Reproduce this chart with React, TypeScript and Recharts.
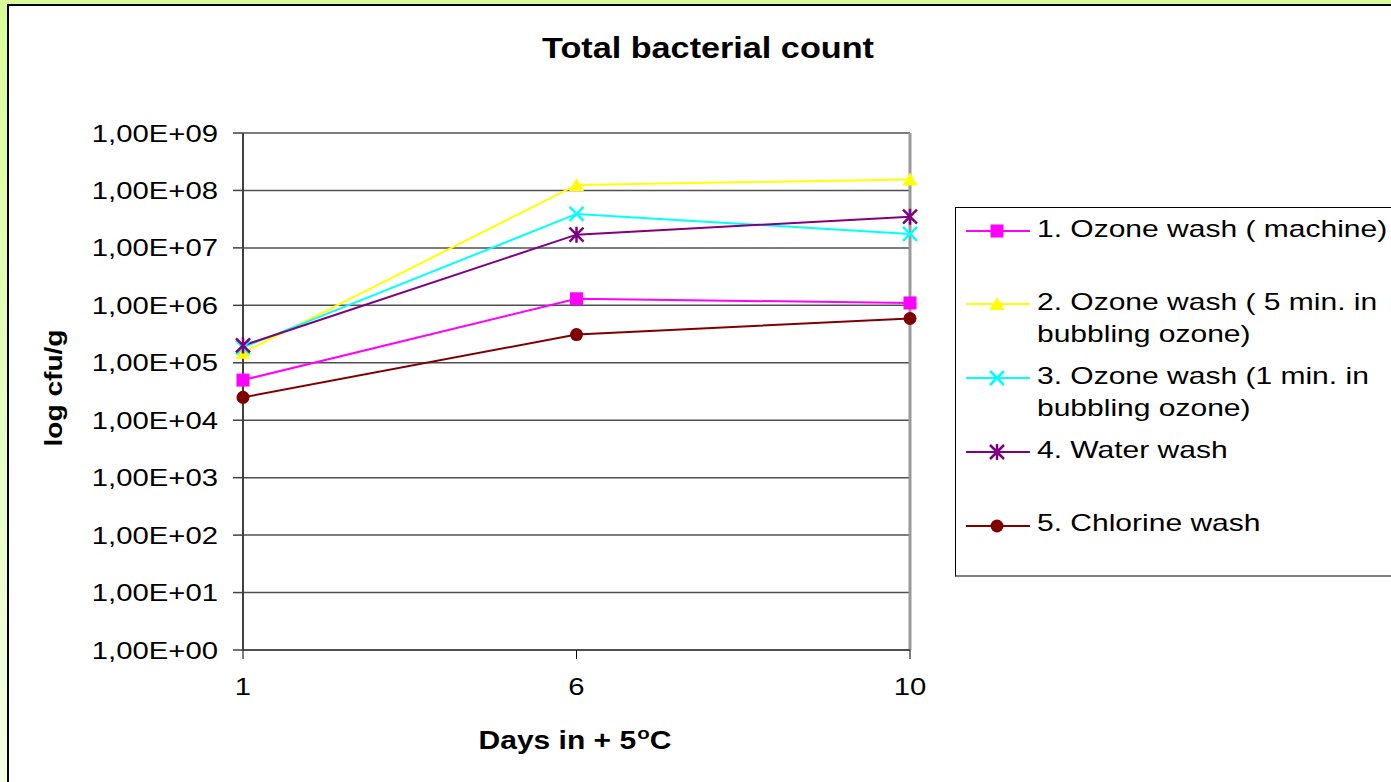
import { LineChart, Line, XAxis, YAxis, CartesianGrid, ReferenceLine } from 'recharts';

const FONT = '"Liberation Sans", Arial, sans-serif';
const STRETCH = 1.22;
const LEGEND_STRETCH = 1.25;

const days = ['1', '6', '10'];
const yTicks = [1, 10, 100, 1e3, 1e4, 1e5, 1e6, 1e7, 1e8, 1e9];

const ozoneMachine = [5.0e4, 1.3e6, 1.1e6];
const ozone5min = [1.5e5, 1.25e8, 1.55e8];
const ozone1min = [1.85e5, 3.9e7, 1.75e7];
const waterWash = [2.0e5, 1.7e7, 3.5e7];
const chlorineWash = [2.5e4, 3.1e5, 5.9e5];

const series = [
  { key: 's1', name: '1. Ozone wash ( machine)', color: '#ff00ff', marker: 'square', values: ozoneMachine },
  { key: 's2', name: '2. Ozone wash ( 5 min. in\nbubbling ozone)', color: '#ffff00', marker: 'triangle', values: ozone5min },
  { key: 's3', name: '3. Ozone wash (1 min. in\nbubbling ozone)', color: '#00ffff', marker: 'x', values: ozone1min },
  { key: 's4', name: '4. Water wash', color: '#800080', marker: 'star', values: waterWash },
  { key: 's5', name: '5. Chlorine wash', color: '#800000', marker: 'circle', values: chlorineWash },
];

const data = days.map((day, i) => {
  const row: any = { day };
  series.forEach((s) => { row[s.key] = s.values[i]; });
  return row;
});

// legend text baselines (page px)
const legendBaselines = [237, 310, 384, 458, 531.7];

const formatTick = (v: number) => {
  const e = Math.round(Math.log10(v));
  return '1,00E+' + (e < 10 ? '0' + e : '' + e);
};

function Marker({ cx, cy, type, color }: { cx: number; cy: number; type: string; color: string }) {
  if (cx == null || cy == null) return null;
  switch (type) {
    case 'square':
      return <rect x={cx - 6.5} y={cy - 6.5} width={13} height={13} fill={color} />;
    case 'triangle':
      return <polygon points={`${cx},${cy - 7} ${cx + 7.5},${cy + 6} ${cx - 7.5},${cy + 6}`} fill={color} />;
    case 'x':
      return (
        <path d={`M${cx - 7},${cy - 7}L${cx + 7},${cy + 7}M${cx - 7},${cy + 7}L${cx + 7},${cy - 7}`}
          stroke={color} strokeWidth={2.5} fill="none" />
      );
    case 'star':
      return (
        <path d={`M${cx - 7},${cy - 7}L${cx + 7},${cy + 7}M${cx - 7},${cy + 7}L${cx + 7},${cy - 7}M${cx},${cy - 8}L${cx},${cy + 8}`}
          stroke={color} strokeWidth={2.5} fill="none" />
      );
    default:
      return <circle cx={cx} cy={cy} r={6.5} fill={color} />;
  }
}

const YTick = ({ x, y, payload }: any) => (
  <text transform={`translate(${x},${y}) scale(${STRETCH},1)`} textAnchor="end" dy="0.355em"
    fill="#000" fontSize={24} fontFamily={FONT}>
    {formatTick(payload.value)}
  </text>
);

const XTick = ({ x, y, payload }: any) => (
  <text transform={`translate(${x},${y}) scale(${STRETCH},1)`} textAnchor="middle" dy="0.71em"
    fill="#000" fontSize={24} fontFamily={FONT}>
    {payload.value}
  </text>
);

export default function App() {
  return (
    <div style={{
      position: 'absolute', left: 0, top: 0, width: 1391, height: 782, overflow: 'hidden',
      background: 'linear-gradient(to bottom, #d9fd9a, #f3ffe4)', fontFamily: FONT,
    }}>
      <div style={{
        position: 'absolute', left: 7, top: 4, width: 1400, height: 800,
        background: '#fff', borderLeft: '2px solid #000', borderTop: '2px solid #000',
      }} />

      <div style={{
        position: 'absolute', left: 408, top: 31, width: 600, textAlign: 'center',
        fontSize: 30, fontWeight: 'bold', lineHeight: 'normal', color: '#000',
        transform: 'scaleX(1.14)', transformOrigin: '300px 0',
      }}>
        Total bacterial count
      </div>

      <div style={{ position: 'absolute', left: 0, top: 0 }}>
        <LineChart width={1391} height={782} data={data}
          margin={{ top: 133, right: 481, bottom: 72, left: 0 }}>
          <CartesianGrid vertical={false} stroke="#505050" strokeWidth={1.5} />
          <XAxis dataKey="day" height={60} axisLine={{ stroke: '#404040', strokeWidth: 1.5 }}
            tickLine={{ stroke: '#000' }} tickSize={9} tickMargin={19} tick={<XTick />} />
          <YAxis scale="log" domain={[1, 1e9]} ticks={yTicks} width={243} allowDataOverflow
            axisLine={{ stroke: '#404040', strokeWidth: 2 }}
            tickLine={{ stroke: '#404040', strokeWidth: 1.5 }} tickSize={10} tickMargin={15}
            tick={<YTick />} />
          <ReferenceLine x="10" stroke="#9a9a9a" strokeWidth={3} />
          {series.map((s) => (
            <Line key={s.key} dataKey={s.key} name={s.name} type="linear" stroke={s.color}
              strokeWidth={2} isAnimationActive={false} activeDot={false}
              dot={(p: any) => <Marker key={s.key + p.index} cx={p.cx} cy={p.cy} type={s.marker} color={s.color} />} />
          ))}
        </LineChart>
      </div>

      <div style={{
        position: 'absolute', left: 0, top: 0, width: 218, height: 30, lineHeight: '30px',
        textAlign: 'center', fontSize: 24, fontWeight: 'bold',
        transform: 'translate(-55px, 373px) rotate(-90deg) scaleX(1.17)', color: '#000',
      }}>
        log cfu/g
      </div>

      <div style={{
        position: 'absolute', left: 375, top: 725.7, width: 400, textAlign: 'center',
        fontSize: 25, fontWeight: 'bold', lineHeight: '28px', color: '#000',
        transform: 'scaleX(1.2)', transformOrigin: '200px 0',
      }}>
        Days in + 5<span style={{ fontSize: 17, position: 'relative', top: -10, marginLeft: 1 }}>o</span>C
      </div>

      <div style={{
        position: 'absolute', left: 955, top: 207, width: 500, height: 367,
        borderTop: '1px solid #000', borderLeft: '1px solid #000', borderBottom: '2px solid #808080',
        background: '#fff',
      }} />
      {series.map((s, i) => {
        const base = legendBaselines[i];
        const cy = base - 6;
        return (
          <div key={s.key}>
            <svg style={{ position: 'absolute', left: 960, top: cy - 12 }} width={80} height={24}>
              <line x1={6} y1={12} x2={70} y2={12} stroke={s.color} strokeWidth={1.8} />
              <Marker cx={37} cy={12} type={s.marker} color={s.color} />
            </svg>
            <div style={{
              position: 'absolute', left: 1037, top: base - 24.3, width: 400, whiteSpace: 'pre',
              fontSize: 24, lineHeight: '32px', color: '#000',
              transform: `scaleX(${LEGEND_STRETCH})`, transformOrigin: '0 0',
            }}>
              {s.name}
            </div>
          </div>
        );
      })}
    </div>
  );
}
